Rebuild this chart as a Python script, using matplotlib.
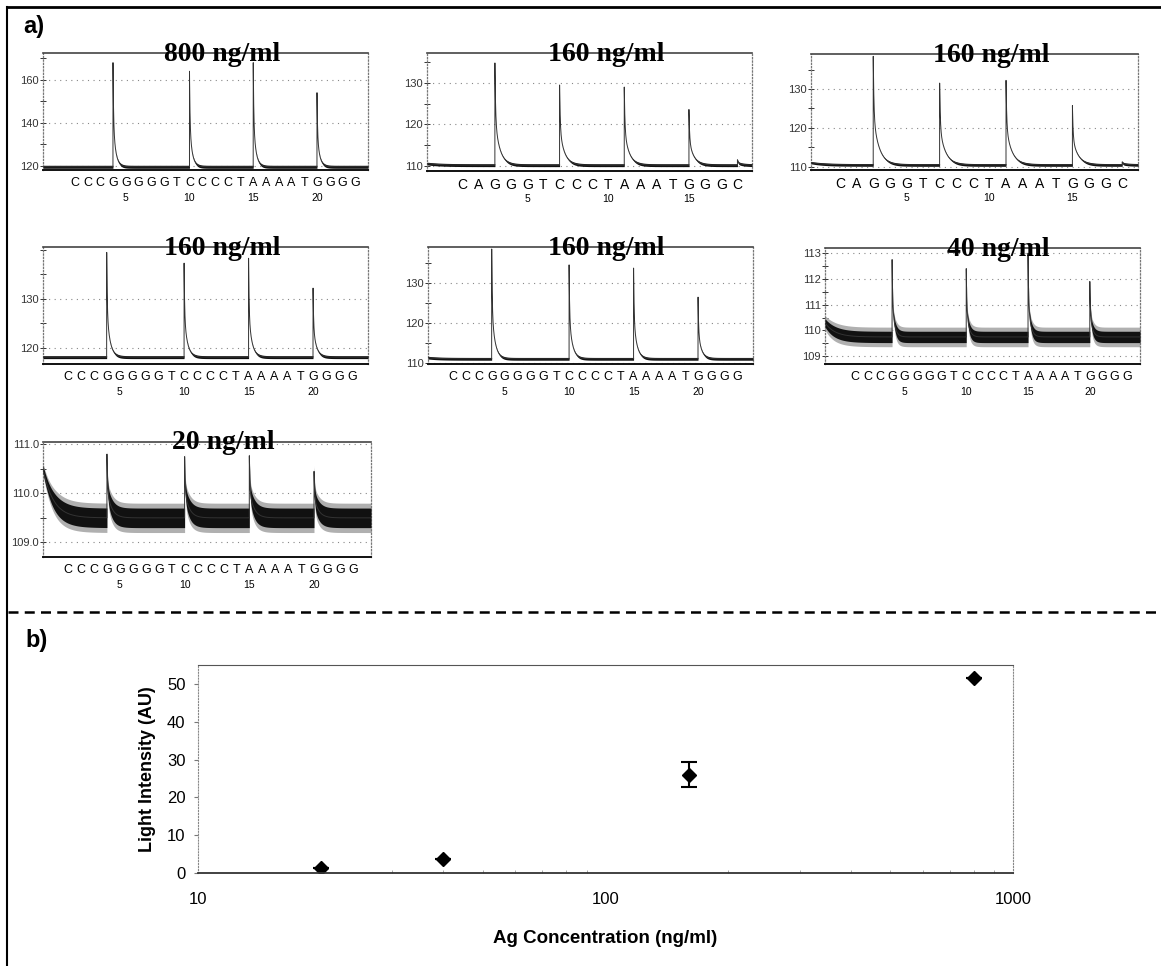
import numpy as np
import matplotlib
matplotlib.use("Agg")
import matplotlib.pyplot as plt
from matplotlib.lines import Line2D

# ---- pyrogram data ----
seq_long = "CCCGGGGGTCCCCTAAAATGGGG"
seq_short = "CAGGGTCCCTAAATGGGC"

titles = ["800 ng/ml", "160 ng/ml", "160 ng/ml", "160 ng/ml", "160 ng/ml", "40 ng/ml", "20 ng/ml"]
sequences = [seq_long, seq_short, seq_short, seq_long, seq_long, seq_long, seq_long]
baselines = [119.5, 110.2, 110.4, 118.1, 111.0, 109.75, 109.5]
start_levels = [119.5, 110.6, 111.0, 118.1, 111.3, 110.3, 110.5]
peak_pos = [
    [4, 10, 15, 20],
    [3, 7, 11, 15, 18],
    [3, 7, 11, 15, 18],
    [4, 10, 15, 20],
    [4, 10, 15, 20],
    [4, 10, 15, 20],
    [4, 10, 15, 20],
]
peak_height = [
    [168.0, 164.0, 168.0, 154.0],
    [134.8, 129.5, 129.0, 123.6, 111.5],
    [138.4, 131.5, 132.2, 125.7, 111.2],
    [139.5, 137.3, 138.3, 132.2],
    [138.6, 134.6, 133.8, 126.5],
    [112.75, 112.4, 113.0, 111.9],
    [110.8, 110.75, 110.77, 110.45],
]
noise = [0.7, 0.35, 0.35, 0.3, 0.35, 0.22, 0.2]
noise_wide = [0, 0, 0, 0, 0, 0.38, 0.3]
y_limits = [(118, 172.5), (108.8, 137.2), (109.1, 139), (116.7, 140.6),
            (109.7, 139.1), (108.7, 113.2), (108.7, 111.05)]
y_ticks = [[120, 140, 160], [110, 120, 130], [110, 120, 130], [120, 130],
           [110, 120, 130], [109, 110, 111, 112, 113], [109.0, 110.0, 111.0]]
y_minor = [10, 5, 5, 5, 5, 0.5, 0.5]
y_fmt = ["%d", "%d", "%d", "%d", "%d", "%d", "%.1f"]

# ---- dose response data ----
ag_conc = [20, 40, 160, 800]
light = [1.3, 3.7, 26.0, 51.6]
light_err = [0, 0, 3.3, 0]

# ---- layout (pixels) ----
W, H = 1161, 966
boxes = [  # left, right, top, bottom
    (43, 368, 53, 170), (427, 752, 53, 171), (811, 1138, 54, 170),
    (43, 368, 247, 364), (428, 753, 247, 364), (825, 1140, 248, 364),
    (43, 371, 442, 557),
]
x_limits = [(-1.49, 24.0), (-1.2, 18.9), (-0.75, 18.95), (-0.94, 24.26),
            (-0.94, 24.26), (-1.43, 24.06), (-0.94, 24.4)]
taus = [0.2, 0.3, 0.35, 0.25, 0.25, 0.2, 0.35]

serif = "Liberation Serif"
sans = "Liberation Sans"

fig = plt.figure(figsize=(W / 100, H / 100), dpi=100)


def frac(l, r, t, b):
    return [l / W, 1 - b / H, (r - l) / W, (b - t) / H]


for i in range(7):
    ax = fig.add_axes(frac(*boxes[i]))
    x0, x1 = x_limits[i]
    base = baselines[i]
    x = np.union1d(np.linspace(x0, x1, 5000), peak_pos[i])
    y = base + (start_levels[i] - base) * np.exp(-(x - x0) / 0.8)
    for p, h in zip(peak_pos[i], peak_height[i]):
        d = x - p
        m = d >= 0
        y[m] += (h - base) * (0.55 * np.exp(-d[m] / 0.04) + 0.45 * np.exp(-d[m] / taus[i]))
    # the noisy band is thick on the baseline and thin on the spikes
    shrink = 1 / (1 + ((y - base) / (4 * noise[i])) ** 2)
    if noise_wide[i] > 0:
        ax.fill_between(x, y - noise_wide[i] * shrink, y + noise_wide[i] * shrink,
                        color="#b0b0b0", lw=0, zorder=2)
    ax.fill_between(x, y - noise[i] * shrink, y + noise[i] * shrink, color="#111111", lw=0, zorder=3)
    ax.plot(x, y, color="#333333", lw=0.7, zorder=4)

    ax.set_xlim(x0, x1)
    ax.set_ylim(*y_limits[i])
    ax.set_yticks(y_ticks[i])
    ax.set_yticklabels([y_fmt[i] % v for v in y_ticks[i]], fontsize=8, family=sans)
    ax.yaxis.set_minor_locator(matplotlib.ticker.MultipleLocator(y_minor[i]))
    ax.tick_params(axis="y", which="both", direction="inout", length=4, width=0.7, pad=1, colors="#333333")
    ax.grid(axis="y", which="major", color="#888888", lw=0.8, linestyle=(0, (1, 4)))

    seq = sequences[i]
    pos = np.arange(1, len(seq) + 1)
    ax.set_xticks(pos)
    ax.set_xticklabels(list(seq), fontsize=9 if len(seq) > 20 else 10, family=sans)
    ax.tick_params(axis="x", length=0, pad=5)
    for n in range(5, len(seq) + 1, 5):
        ax.annotate(str(n), xy=(n, 0), xycoords=("data", "axes fraction"),
                    xytext=(0, -20), textcoords="offset points",
                    ha="center", va="center", fontsize=7.5, family=sans)

    ax.spines["top"].set_color("#444444")
    ax.spines["top"].set_linewidth(1.2)
    ax.spines["bottom"].set_color("#111111")
    ax.spines["bottom"].set_linewidth(1.4)
    for s in ("left", "right"):
        ax.spines[s].set_linestyle(":")
        ax.spines[s].set_color("#777777")
        ax.spines[s].set_linewidth(0.9)

    ax.text(0.55, 0.935, titles[i], transform=ax.transAxes, ha="center", va="baseline",
            fontsize=20, fontweight="bold", family=serif, zorder=10)

# ---- panel b ----
axb = fig.add_axes(frac(198, 1013, 665, 873))
axb.errorbar(ag_conc, light, yerr=light_err, fmt="D", color="black", ms=7,
             capsize=6, capthick=1.5, elinewidth=1.5)
axb.set_xscale("log")
axb.set_xlim(10, 1000)
axb.set_ylim(0, 55)
axb.set_yticks([0, 10, 20, 30, 40, 50])
axb.set_xticks([10, 100, 1000])
axb.set_xticklabels(["10", "100", "1000"], fontsize=12, family=sans)
axb.set_yticklabels(["0", "10", "20", "30", "40", "50"], fontsize=12, family=sans)
axb.tick_params(axis="y", direction="out", length=3, color="#777777", pad=6)
axb.tick_params(axis="x", which="major", length=0, pad=14)
axb.tick_params(axis="x", which="minor", length=2, direction="in", color="#999999")
axb.xaxis.set_minor_formatter(matplotlib.ticker.NullFormatter())
axb.set_ylabel("Light Intensity (AU)", fontsize=13, fontweight="bold", family=sans, labelpad=8)
axb.set_xlabel("Ag Concentration (ng/ml)", fontsize=13.5, fontweight="bold", family=sans, labelpad=16)
axb.spines["top"].set_color("#555555")
axb.spines["bottom"].set_color("#333333")
axb.spines["bottom"].set_linewidth(1.3)
for s in ("left", "right"):
    axb.spines[s].set_linestyle(":")
    axb.spines[s].set_color("#888888")

# ---- labels, frame, separator ----
fig.text(23 / W, 1 - 27 / H, "a)", fontsize=17, fontweight="bold", family=sans, va="center")
fig.text(25 / W, 1 - 640 / H, "b)", fontsize=17, fontweight="bold", family=sans, va="center")
fig.add_artist(Line2D([8 / W, 1], [1 - 612 / H, 1 - 612 / H], color="black", lw=1.8,
                      linestyle=(0, (4, 2.5)), transform=fig.transFigure))
fig.add_artist(Line2D([7 / W, 1], [1 - 7 / H, 1 - 7 / H], color="black", lw=2, transform=fig.transFigure))
fig.add_artist(Line2D([7 / W, 7 / W], [1 - 7 / H, 0], color="black", lw=1.5, transform=fig.transFigure))

fig.savefig("out.png", dpi=100)
